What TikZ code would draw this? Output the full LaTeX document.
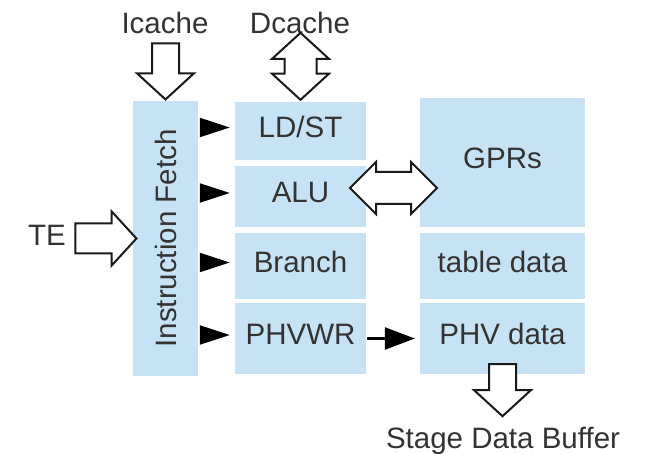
\documentclass[tikz,border=0pt]{standalone}
\usepackage{fontspec}
\setmainfont{Liberation Sans}
\usetikzlibrary{shapes.arrows,arrows.meta,calc}
\definecolor{unitblue}{RGB}{197,227,245}
\definecolor{txtgray}{RGB}{51,51,51}
\tikzstyle{unit} = [fill=unitblue, inner sep=0pt, text=txtgray]
\tikzstyle{txt} = [text height=21pt, text depth=8pt]
\tikzstyle{lbl} = [inner sep=0pt, text=txtgray, txt]
\tikzstyle{bigarrow} = [single arrow, draw=black!90, fill=white, line width=2pt, inner sep=0pt, text depth=0pt, single arrow tip angle=95]
\tikzstyle{dblarrow} = [double arrow, draw=black!90, fill=white, line width=2pt, inner sep=0pt, text depth=0pt, double arrow tip angle=95]
\tikzstyle{tri} = [line width=2pt, -{Triangle[length=30pt,width=19pt]}, shorten >=5pt, shorten <=2pt]
\tikzstyle{link} = [line width=2.5pt, -{Triangle[length=30pt,width=22pt]}, shorten >=5pt, shorten <=1pt]

\begin{document}
\begin{tikzpicture}[x=1pt, y=-1pt, font=\fontsize{29.5}{35}\selectfont]
\useasboundingbox (0,0) rectangle (646,454);
\node[unit, minimum width=65pt, minimum height=275pt] (fetch) at (165.5,238.5) {\rotatebox{90}{Instruction Fetch}};
\node[unit, txt, minimum width=131pt, minimum height=58pt] (ldst) at (300.5,131) {LD/ST};
\node[unit, txt, minimum width=131pt, minimum height=61pt] (alu) at (300.5,196.5) {ALU};
\node[unit, txt, minimum width=131pt, minimum height=66pt] (branch) at (300.5,266) {Branch};
\node[unit, txt, minimum width=131pt, minimum height=71pt] (phvwr) at (300.5,338.5) {PHVWR};
\node[unit, txt, minimum width=165pt, minimum height=129pt] (gprs) at (502.5,162.5) {GPRs};
\node[unit, txt, minimum width=165pt, minimum height=66pt] (table) at (502.5,266) {table data};
\node[unit, txt, minimum width=165pt, minimum height=71pt] (phvdata) at (502.5,338.5) {PHV data};

\node[lbl] (icache) at (165,27) {Icache};
\node[lbl] (dcache) at (300,27) {Dcache};
\node[lbl] (te) at (47,239) {TE};
\node[lbl] (sdb) at (503,442) {Stage Data Buffer};

\node[bigarrow, rotate=-90, text height=25pt, minimum height=56pt, minimum width=55pt, single arrow head extend=15pt, anchor=tip] (icarrow) at (fetch.north) {};
\node[dblarrow, rotate=90, text height=30pt, minimum height=67pt, minimum width=55pt, double arrow head extend=12.5pt] (dcarrow) at ($(ldst.north)+(0,-35.5)$) {};
\node[bigarrow, text height=28pt, minimum height=61pt, minimum width=52pt, single arrow head extend=12pt, anchor=tip] (tearrow) at ($(fetch.west)+(5,0)$) {};
\node[dblarrow, text height=30pt, minimum height=87pt, minimum width=50pt, double arrow head extend=10pt, double arrow tip angle=90] (aluarrow) at (393.5,188) {};
\node[bigarrow, rotate=-90, text height=25pt, minimum height=52pt, minimum width=55pt, single arrow head extend=15pt, anchor=tail] (sdbarrow) at ($(phvdata.south)+(0,-11)$) {};

\foreach \u in {ldst,alu,branch,phvwr}
  \draw[tri] ([yshift=10pt]fetch.east |- \u.base) -- ([yshift=10pt]\u.west |- \u.base);
\draw[link] (phvwr.east) -- (phvdata.west);
\end{tikzpicture}
\end{document}
